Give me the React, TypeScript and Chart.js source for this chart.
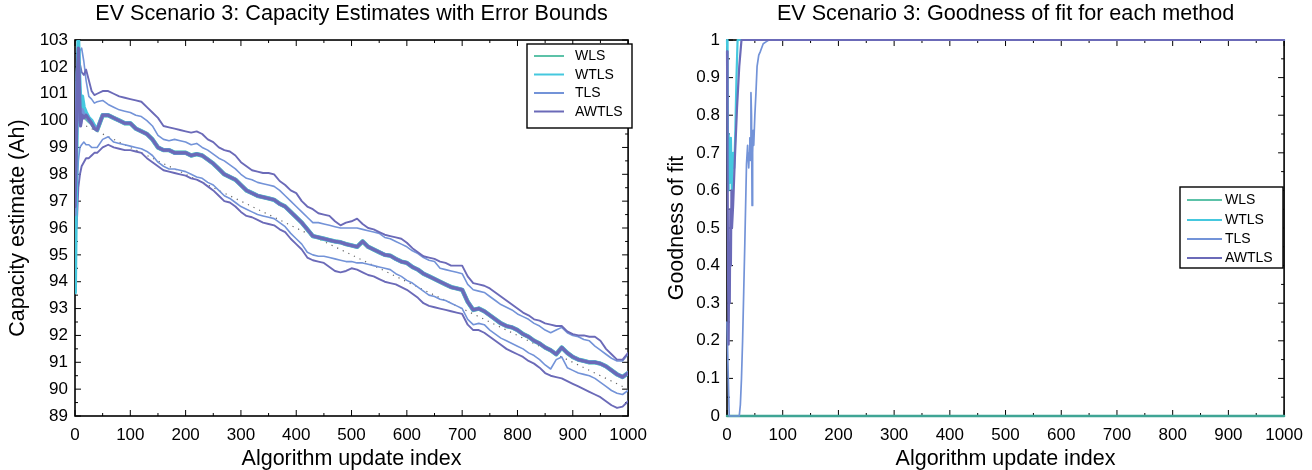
import React, { useEffect, useRef } from 'react';
import { Chart, registerables } from 'chart.js';

Chart.register(...registerables);

const FONT = "'Liberation Sans', Arial, Helvetica, sans-serif";

// ---------- colours ----------
const C_WLS = '#5cc2a8';
const C_WTLS = '#45c8de';
const C_TLS = '#7393d8';
const C_AWTLS = '#6b6ab8';
const C_WLS_FIT = '#3fa595';
const C_TRUE = '#666666';

// ---------- left chart: capacity estimates ----------
const legendLabels = ['WLS', 'WTLS', 'TLS', 'AWTLS'];
const xTickLabels = ['0', '100', '200', '300', '400', '500', '600', '700', '800', '900', '1000'];
const yTickLabelsLeft = ['89', '90', '91', '92', '93', '94', '95', '96', '97', '98', '99', '100', '101', '102', '103'];
const yTickLabelsRight = ['0', '0.1', '0.2', '0.3', '0.4', '0.5', '0.6', '0.7', '0.8', '0.9', '1'];

// first updates, where the methods still differ
const earlyIdx = [0, 2, 4, 6, 8, 10, 13, 16, 20, 25, 30, 35];
const wlsEarly = [99.0, 100.3, 100.8, 100.4, 100.6, 100.2, 100.5, 100.3, 100.1, 100.0, 99.9, 99.75];
const wtlsEarly = [93.6, 97.5, 100.8, 103.0, 101.6, 100.6, 100.9, 100.5, 100.3, 100.1, 100.0, 99.8];
const tlsEarly = [96.5, 99.0, 101.8, 102.2, 100.5, 99.9, 100.4, 100.2, 100.2, 100.0, 99.9, 99.75];
const awtlsEarly = [96.8, 98.5, 101.2, 102.7, 101.3, 99.8, 100.2, 100.1, 100.2, 100.05, 99.9, 99.7];

// bounds during first updates
const boundEarlyIdx = [3, 6, 9, 12, 16, 20, 25, 30, 35];
const awUpperEarly = [100.5, 102.3, 102.1, 101.8, 101.7, 101.9, 101.5, 101.1, 100.95];
const tlsUpperEarly = [99.5, 101.8, 102.6, 102.7, 102.2, 101.5, 100.9, 100.8, 100.65];
const awLowerEarly = [96.0, 97.5, 98.0, 98.3, 98.45, 98.6, 98.6, 98.7, 98.8];
const tlsLowerEarly = [97.0, 98.5, 99.0, 99.1, 99.2, 99.1, 99.1, 99.0, 99.0];

// update index 40..1000
const mainIdx = [
  40, 50, 60, 70, 80, 90, 100, 110, 120, 130,
  140, 150, 160, 170, 180, 190, 200, 210, 220, 230,
  240, 250, 260, 270, 280, 290, 300, 310, 320, 330,
  340, 350, 360, 370, 380, 390, 400, 410, 420, 430,
  440, 450, 460, 470, 480, 490, 500, 510, 520, 530,
  540, 550, 560, 570, 580, 590, 600, 610, 620, 630,
  640, 650, 660, 670, 680, 690, 700, 710, 720, 730,
  740, 750, 760, 770, 780, 790, 800, 810, 820, 830,
  840, 850, 860, 870, 880, 890, 900, 910, 920, 930,
  940, 950, 960, 970, 980, 990, 1000,
];

// common capacity estimate (all four methods overlap)
const centerEst = [
  99.65, 100.2, 100.2, 100.1, 100.0, 99.9, 99.9, 99.7, 99.6, 99.5,
  99.3, 99.0, 98.9, 98.9, 98.8, 98.8, 98.8, 98.7, 98.75, 98.7,
  98.55, 98.4, 98.2, 98.0, 97.9, 97.8, 97.6, 97.4, 97.3, 97.2,
  97.15, 97.1, 97.05, 96.9, 96.8, 96.6, 96.4, 96.2, 95.95, 95.7,
  95.65, 95.6, 95.55, 95.5, 95.47, 95.4, 95.35, 95.3, 95.5, 95.3,
  95.2, 95.1, 95.0, 94.97, 94.85, 94.75, 94.7, 94.55, 94.45, 94.3,
  94.2, 94.1, 94.0, 93.9, 93.8, 93.75, 93.7, 93.25, 92.95, 93.0,
  92.9, 92.75, 92.6, 92.45, 92.35, 92.3, 92.2, 92.05, 91.95, 91.8,
  91.7, 91.55, 91.45, 91.3, 91.55, 91.35, 91.2, 91.1, 91.05, 91.0,
  91.0, 90.95, 90.85, 90.7, 90.55, 90.45, 90.6,
];

const awUpper = [
  101.0, 101.1, 101.1, 101.0, 100.9, 100.85, 100.8, 100.75, 100.7, 100.5,
  100.3, 100.1, 99.8, 99.75, 99.7, 99.65, 99.6, 99.55, 99.6, 99.5,
  99.3, 99.2, 99.0, 98.9, 98.85, 98.7, 98.45, 98.3, 98.15, 98.1,
  98.05, 98.05, 98.0, 97.75, 97.6, 97.4, 97.3, 97.0, 96.8, 96.7,
  96.55, 96.5, 96.45, 96.25, 96.1, 96.2, 96.25, 96.35, 96.15, 96.0,
  95.95, 95.85, 95.75, 95.7, 95.65, 95.6, 95.45, 95.25, 95.1, 94.95,
  94.9, 94.85, 94.75, 94.7, 94.6, 94.6, 94.6, 94.2, 93.95, 93.9,
  93.85, 93.75, 93.6, 93.45, 93.3, 93.15, 93.0, 92.85, 92.75, 92.6,
  92.55, 92.45, 92.4, 92.35, 92.35, 92.15, 92.05, 92.0, 92.0, 91.95,
  91.95, 91.8, 91.5, 91.3, 91.1, 91.1, 91.35,
];

const tlsUpper = [
  100.7, 100.75, 100.6, 100.5, 100.4, 100.35, 100.3, 100.2, 100.15, 100.0,
  99.8, 99.45, 99.3, 99.25, 99.3, 99.25, 99.2, 99.1, 99.15, 99.0,
  98.9, 98.75, 98.6, 98.5, 98.35, 98.2, 98.0, 97.85, 97.8, 97.7,
  97.65, 97.6, 97.55, 97.4, 97.2, 97.0, 96.8, 96.6, 96.4, 96.2,
  96.2, 96.15, 96.1, 96.05, 96.0, 96.0, 96.0, 96.0, 95.95, 95.9,
  95.85, 95.8, 95.65, 95.6, 95.5, 95.4, 95.3, 95.15, 95.05, 94.9,
  94.8, 94.75, 94.5, 94.45, 94.4, 94.35, 94.3, 93.9, 93.7, 93.65,
  93.6, 93.45, 93.3, 93.15, 93.05, 92.95, 92.8, 92.7, 92.6, 92.45,
  92.35, 92.2, 92.1, 92.2, 92.3, 92.1, 92.0, 91.95, 91.85, 91.8,
  91.6, 91.45, 91.3, 91.15, 91.05, 91.05, 91.3,
];

const tlsLower = [
  99.0, 99.3, 99.4, 99.2, 99.15, 99.1, 99.05, 99.0, 98.95, 98.85,
  98.7, 98.45, 98.3, 98.2, 98.2, 98.15, 98.1, 98.0, 97.9, 97.85,
  97.7, 97.6, 97.4, 97.2, 97.1, 96.95, 96.8, 96.7, 96.6, 96.5,
  96.45, 96.4, 96.35, 96.2, 96.05, 95.8, 95.6, 95.4, 95.1, 95.0,
  94.95, 94.95, 94.9, 94.85, 94.8, 94.75, 94.75, 94.7, 94.7, 94.65,
  94.6, 94.55, 94.5, 94.45, 94.3, 94.2, 94.05, 93.95, 93.8, 93.65,
  93.5, 93.45, 93.35, 93.3, 93.2, 93.1, 93.0, 92.6, 92.4, 92.45,
  92.4, 92.2, 92.05, 91.9, 91.8, 91.7, 91.6, 91.5, 91.35, 91.25,
  91.1, 90.9, 90.75, 91.1, 91.2, 90.8, 90.7, 90.6, 90.55, 90.5,
  90.4, 90.25, 90.1, 89.95, 89.85, 89.8, 89.95,
];

const awLower = [
  98.8, 99.0, 99.1, 99.0, 98.95, 98.9, 98.9, 98.85, 98.8, 98.6,
  98.45, 98.3, 98.15, 98.1, 98.05, 98.0, 97.95, 97.85, 97.8, 97.7,
  97.55, 97.4, 97.2, 97.0, 96.95, 96.8, 96.6, 96.45, 96.4, 96.3,
  96.2, 96.15, 96.1, 95.95, 95.85, 95.6, 95.4, 95.2, 94.9, 94.8,
  94.75, 94.7, 94.55, 94.4, 94.35, 94.4, 94.5, 94.45, 94.35, 94.25,
  94.2, 94.1, 94.0, 93.95, 93.9, 93.8, 93.7, 93.55, 93.4, 93.2,
  93.1, 93.05, 93.0, 92.95, 92.9, 92.85, 92.8, 92.4, 92.2, 92.2,
  92.1, 91.95, 91.8, 91.65, 91.5, 91.4, 91.3, 91.2, 91.05, 90.95,
  90.8, 90.6, 90.5, 90.45, 90.4, 90.3, 90.2, 90.1, 90.0, 89.9,
  89.8, 89.7, 89.55, 89.4, 89.3, 89.35, 89.55,
];

// true capacity (dotted)
const trueIdx = [0, 1000];
const trueCap = [100, 90];

// ---------- right chart: goodness of fit ----------
const wlsFitIdx = [0, 1000];
const wlsFit = [0, 0];
const wtlsFitIdx = [0, 1, 2, 3, 5, 7, 9, 11, 13, 15, 17, 19, 1000];
const wtlsFit = [1.0, 0.92, 0.6, 0.75, 0.62, 0.74, 0.58, 0.7, 0.66, 0.76, 0.9, 1.0, 1.0];
const awtlsFitIdx = [0, 1, 2, 3, 4, 5, 6, 7, 8, 9, 11, 14, 18, 22, 26, 1000];
const awtlsFit = [0.97, 0.7, 0.35, 0.19, 0.45, 0.3, 0.55, 0.4, 0.6, 0.5, 0.56, 0.68, 0.82, 0.93, 1.0, 1.0];
const tlsFitIdx = [0, 2, 4, 22, 24, 26, 28, 30, 32, 34, 35, 37, 39, 40, 41, 42, 43, 44, 45, 46, 47, 48, 50, 52, 54, 57, 60, 65, 70, 75, 1000];
const tlsFit = [0.25, 0.12, 0, 0, 0.03, 0.1, 0.2, 0.33, 0.46, 0.6, 0.67, 0.72, 0.66, 0.7, 0.74, 0.68, 0.86, 0.8, 0.56, 0.7, 0.76, 0.72, 0.8, 0.86, 0.93, 0.96, 0.97, 0.99, 0.995, 1.0, 1.0];

// ---------- helpers ----------
function pts(xs: number[], ys: number[]) {
  return xs.map((x, i) => ({ x, y: ys[i] }));
}

const legendColors = [C_WLS, C_WTLS, C_TLS, C_AWTLS];

const framePlugin = {
  id: 'matlabFrame',
  beforeDatasetsDraw(chart: any) {
    const { ctx, chartArea: a, scales } = chart;
    const xs = scales.x;
    const ys = scales.y;
    ctx.save();
    ctx.strokeStyle = '#000';
    ctx.lineWidth = 1;
    const seg = (x1: number, y1: number, x2: number, y2: number) => {
      ctx.beginPath();
      ctx.moveTo(x1, y1);
      ctx.lineTo(x2, y2);
      ctx.stroke();
    };
    const xt = xs.ticks.map((t: any) => t.value);
    xt.forEach((v: number, i: number) => {
      const p = xs.getPixelForValue(v);
      seg(p, a.bottom, p, a.bottom - 6);
      seg(p, a.top, p, a.top + 6);
      if (i < xt.length - 1) {
        const m = xs.getPixelForValue((v + xt[i + 1]) / 2);
        seg(m, a.bottom, m, a.bottom - 3);
        seg(m, a.top, m, a.top + 3);
      }
    });
    const yt = ys.ticks.map((t: any) => t.value);
    yt.forEach((v: number, i: number) => {
      const p = ys.getPixelForValue(v);
      seg(a.left, p, a.left + 6, p);
      seg(a.right, p, a.right - 6, p);
      if (i < yt.length - 1) {
        const m = ys.getPixelForValue((v + yt[i + 1]) / 2);
        seg(a.left, m, a.left + 3, m);
        seg(a.right, m, a.right - 3, m);
      }
    });
    ctx.lineWidth = 1.6;
    ctx.strokeRect(a.left, a.top, a.right - a.left, a.bottom - a.top);
    ctx.restore();
  },
};

function makeLegendPlugin(cfg: { x: number; y: number; w: number; h: number; l0: number; l1: number; tx: number; rows: number[]; size: number }) {
  return {
    id: 'boxLegend',
    afterDatasetsDraw(chart: any) {
      const { ctx } = chart;
      ctx.save();
      ctx.fillStyle = '#fff';
      ctx.fillRect(cfg.x, cfg.y, cfg.w, cfg.h);
      ctx.strokeStyle = '#000';
      ctx.lineWidth = 1.4;
      ctx.strokeRect(cfg.x, cfg.y, cfg.w, cfg.h);
      ctx.font = `${cfg.size}px ${FONT}`;
      ctx.textBaseline = 'middle';
      ctx.textAlign = 'left';
      legendLabels.forEach((lab, i) => {
        const yy = cfg.rows[i];
        ctx.strokeStyle = legendColors[i];
        ctx.lineWidth = 2;
        ctx.beginPath();
        ctx.moveTo(cfg.l0, yy);
        ctx.lineTo(cfg.l1, yy);
        ctx.stroke();
        ctx.fillStyle = '#000';
        ctx.fillText(lab, cfg.tx, yy + 0.5);
      });
      ctx.restore();
    },
  };
}

const tickFont = { family: FONT, size: 17 };
const axisTitleFont = { family: FONT, size: 21.5, lineHeight: 1.0 };
const titleFont = { family: FONT, size: 21.6, weight: 'normal' as const, lineHeight: 1.2 };

function baseOptions(opts: {
  title: string;
  yTitle: string;
  yMin: number;
  yMax: number;
  yStep: number;
  yLabels: string[];
  yWidth: number;
  yTitlePad: number;
  padRight: number;
}) {
  return {
    animation: false,
    responsive: false,
    maintainAspectRatio: false,
    layout: { padding: { left: 0, right: opts.padRight, top: 0, bottom: 0 } },
    elements: {
      point: { radius: 0, hoverRadius: 0 },
      line: { tension: 0, borderJoinStyle: 'round', borderCapStyle: 'round' },
    },
    plugins: {
      legend: { display: false },
      tooltip: { enabled: false },
      title: {
        display: true,
        text: opts.title,
        font: titleFont,
        color: '#000',
        fullSize: false,
        padding: { top: 1.1, bottom: 13 },
      },
    },
    scales: {
      x: {
        type: 'linear',
        min: 0,
        max: 1000,
        afterFit: (s: any) => {
          s.height = 54;
        },
        ticks: {
          stepSize: 100,
          font: tickFont,
          color: '#000',
          padding: 9,
          maxRotation: 0,
          autoSkip: false,
          callback: (_v: any, i: number) => xTickLabels[i],
        },
        grid: { display: false, drawTicks: false },
        border: { display: false },
        title: {
          display: true,
          text: 'Algorithm update index',
          font: axisTitleFont,
          color: '#000',
          padding: { top: 0, bottom: 0 },
        },
      },
      y: {
        type: 'linear',
        min: opts.yMin,
        max: opts.yMax,
        afterFit: (s: any) => {
          s.width = opts.yWidth;
        },
        ticks: {
          stepSize: opts.yStep,
          font: tickFont,
          color: '#000',
          padding: 7,
          autoSkip: false,
          callback: (_v: any, i: number) => opts.yLabels[i],
        },
        grid: { display: false, drawTicks: false },
        border: { display: false },
        title: {
          display: true,
          text: opts.yTitle,
          font: axisTitleFont,
          color: '#000',
          padding: { top: opts.yTitlePad, bottom: 0 },
        },
      },
    },
  };
}

function line(label: string, data: any[], color: string, width: number, extra: any = {}) {
  return {
    label,
    data,
    borderColor: color,
    backgroundColor: color,
    borderWidth: width,
    pointRadius: 0,
    fill: false,
    ...extra,
  };
}

function leftConfig(): any {
  const cIdx = earlyIdx.concat(mainIdx);
  const bIdx = boundEarlyIdx.concat(mainIdx);
  return {
    type: 'line',
    data: {
      datasets: [
        line('AWTLS', pts(cIdx, awtlsEarly.concat(centerEst)), C_AWTLS, 3.2),
        line('TLS', pts(cIdx, tlsEarly.concat(centerEst)), C_TLS, 3.5),
        line('WTLS', pts(cIdx, wtlsEarly.concat(centerEst)), C_WTLS, 3.9),
        line('WLS', pts(cIdx, wlsEarly.concat(centerEst)), C_WLS, 4.4),
        line('AWTLS upper bound', pts(bIdx, awUpperEarly.concat(awUpper)), C_AWTLS, 1.9),
        line('AWTLS lower bound', pts(bIdx, awLowerEarly.concat(awLower)), C_AWTLS, 1.9),
        line('TLS upper bound', pts(bIdx, tlsUpperEarly.concat(tlsUpper)), C_TLS, 1.6),
        line('TLS lower bound', pts(bIdx, tlsLowerEarly.concat(tlsLower)), C_TLS, 1.6),
        line('True capacity', pts(trueIdx, trueCap), C_TRUE, 1.2, { borderDash: [1.2, 5], borderCapStyle: 'butt' }),
      ],
    },
    options: baseOptions({
      title: 'EV Scenario 3: Capacity Estimates with Error Bounds',
      yTitle: 'Capacity estimate (Ah)',
      yMin: 89,
      yMax: 103,
      yStep: 1,
      yLabels: yTickLabelsLeft,
      yWidth: 75,
      yTitlePad: 7.3,
      padRight: 20,
    }),
    plugins: [
      framePlugin,
      makeLegendPlugin({ x: 527, y: 44, w: 105, h: 84, l0: 534, l1: 564, tx: 575, rows: [56, 74.5, 93, 111.5], size: 14 }),
    ],
  };
}

function rightConfig(): any {
  return {
    type: 'line',
    data: {
      datasets: [
        line('AWTLS', pts(awtlsFitIdx, awtlsFit), C_AWTLS, 2.2, { clip: 4 }),
        line('TLS', pts(tlsFitIdx, tlsFit), C_TLS, 1.7, { clip: 4 }),
        line('WTLS', pts(wtlsFitIdx, wtlsFit), C_WTLS, 2.2, { clip: 4 }),
        line('WLS', pts(wlsFitIdx, wlsFit), C_WLS_FIT, 2.5, { clip: 4 }),
      ],
    },
    options: baseOptions({
      title: 'EV Scenario 3: Goodness of fit for each method',
      yTitle: 'Goodness of fit',
      yMin: 0,
      yMax: 1,
      yStep: 0.1,
      yLabels: yTickLabelsRight,
      yWidth: 71,
      yTitlePad: 10.3,
      padRight: 22,
    }),
    plugins: [
      framePlugin,
      makeLegendPlugin({ x: 524, y: 187, w: 103, h: 81, l0: 531, l1: 566, tx: 569, rows: [200, 220, 239, 258], size: 14 }),
    ],
  };
}

function ChartCanvas({ make, left }: { make: () => any; left: number }) {
  const ref = useRef<HTMLCanvasElement | null>(null);
  useEffect(() => {
    const chart = new Chart(ref.current as HTMLCanvasElement, make());
    return () => chart.destroy();
  }, [make]);
  return (
    <canvas
      ref={ref}
      width={656}
      height={470}
      style={{ position: 'absolute', left, top: 0, width: 656, height: 470 }}
    />
  );
}

export default function App() {
  return (
    <div style={{ position: 'absolute', left: 0, top: 0, width: 1312, height: 470, background: '#fff', overflow: 'hidden' }}>
      <ChartCanvas make={leftConfig} left={0} />
      <ChartCanvas make={rightConfig} left={656} />
    </div>
  );
}
